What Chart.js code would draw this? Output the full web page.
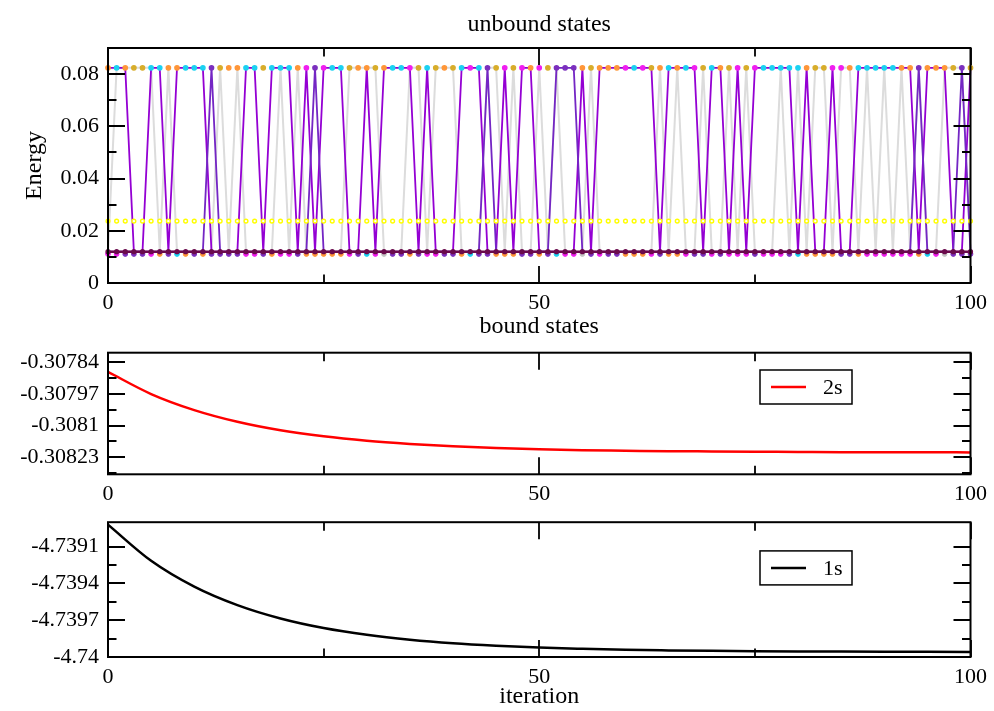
<!DOCTYPE html>
<html>
<head>
<meta charset="utf-8">
<title>SCF iterations</title>
<script src="https://cdn.jsdelivr.net/npm/chart.js@4.4.0/dist/chart.umd.min.js"></script>
<style>
  html, body { margin: 0; padding: 0; background: #fff; }
  #wrap { position: relative; width: 994px; height: 711px; }
  canvas { position: absolute; left: 0; }
</style>
</head>
<body>
<div id="wrap">
  <canvas id="unbound" width="994" height="320" style="top:0px"></canvas>
  <canvas id="bound2s" width="994" height="200" style="top:310px"></canvas>
  <canvas id="bound1s" width="994" height="211" style="top:500px"></canvas>
</div>
<script>
// iteration index for the unbound panel
const iterations = Array.from({ length: 101 }, (_, i) => i);

// unbound state energies
const upperLevel = 0.0824;
const lowerLevel = 0.0120;
const lowerShadow = 0.0111;
const middleLevel = 0.0237;
const levels = [lowerLevel, upperLevel];

// which level each traced state sits on (0 = lower, 1 = upper)
const violetState = [
  1,1,1,0,0,1,1,0,1,1, 1,1,0,0,0,0,1,1,0,1,
  1,1,0,1,0,1,1,1,0,0, 1,0,1,1,1,1,0,1,0,0,
  0,1,1,1,0,0,1,0,1,1, 0,0,0,0,0,1,0,1,1,1,
  1,1,1,1,0,1,1,1,1,0, 1,1,0,1,0,1,1,1,1,1,
  0,1,0,0,1,0,0,1,1,1, 1,1,1,1,0,1,1,1,0,0,1
];
const greyState = [
  0,1,1,1,1,1,0,1,0,0, 0,0,0,1,0,1,0,0,0,0,
  1,0,1,0,0,0,0,0,1,1, 1,1,0,0,0,1,1,0,1,1,
  1,0,0,0,1,1,0,1,0,0, 1,0,1,0,0,0,1,0,0,0,
  0,0,0,0,1,0,1,0,0,1, 0,0,1,0,1,0,0,0,1,0,
  1,0,1,1,0,1,1,0,1,0, 1,0,1,0,1,0,0,1,1,1,0
];
const indigoState = [
  0,0,0,0,0,0,0,0,0,0, 0,0,1,0,0,0,0,0,0,0,
  0,0,0,0,1,0,0,0,0,0, 0,0,0,0,0,0,0,0,0,0,
  0,0,0,0,1,0,0,0,0,0, 0,0,1,1,1,0,0,0,0,0,
  0,0,0,0,0,0,0,0,0,0, 0,0,0,0,0,0,0,0,0,0,
  0,0,0,0,0,0,0,0,0,0, 0,0,0,0,1,0,0,0,0,1,0
];

// symbol colour of the state found on each level per iteration
const upperMarks = ('ocoyyccoocc' + 'cpyooccycc' + 'compmccyoo' + 'yoccmycyoy' + 'cmcpymymom' +
  'ypppoyooom' + 'cmyococmyc' + 'oymymccccc' + 'oyymmocccc' + 'coopoooypy').split('');
const lowerMarks = ('mmpppmopcop' + 'oppppmmpom' + 'mpooooompc' + 'mgppopmmpp' + 'ocppoooppo' +
  'pcmmgpmppo' + 'oompoomppm' + 'pmmmpmmmpc' + 'ooooppommm' + 'mmmocmgppp').split('');
const markColor = { o: '#ff9638', c: '#1ad2f2', y: '#d8ad2a', m: '#f01ef0', p: '#7b2fbe', g: '#c4c4c4' };

// bound states, sampled every 5 iterations
const curveIter = [0,5,10,15,20,25,30,35,40,45,50,55,60,65,70,75,80,85,90,95,100];
const energy2s = [
  -0.307879, -0.307970, -0.308036, -0.308084, -0.308119, -0.308144, -0.308162,
  -0.308175, -0.308185, -0.308192, -0.308197, -0.308201, -0.308203, -0.308205,
  -0.308206, -0.308207, -0.308208, -0.308209, -0.308209, -0.308209, -0.308210
];
const energy1s = [
  -4.738920, -4.739215, -4.739426, -4.739577, -4.739686, -4.739764, -4.739819,
  -4.739859, -4.739888, -4.739908, -4.739923, -4.739933, -4.739941, -4.739946,
  -4.739950, -4.739953, -4.739955, -4.739956, -4.739957, -4.739958, -4.739959
];

// tick values
const xMajor = [0, 50, 100];
const xMinor = [25, 75];
const unboundMajor = [0, 0.02, 0.04, 0.06, 0.08];
const unboundMinor = [0.01, 0.03, 0.05, 0.07];
const ticks2sMajor = [-0.30784, -0.30797, -0.3081, -0.30823];
const ticks2sMinor = [-0.307905, -0.308035, -0.308165, -0.308295];
const ticks1sMajor = [-4.7391, -4.7394, -4.7397, -4.74];
const ticks1sMinor = [-4.73925, -4.73955, -4.73985];

const serif = "'Liberation Serif', 'Times New Roman', serif";
Chart.defaults.font.family = serif;
Chart.defaults.color = '#000';

// box around the plot, inward ticks on all four sides, panel title, optional legend box
const framePlugin = {
  id: 'frame',
  afterDatasetsDraw(chart, args, opts) {
    const { ctx, chartArea: a, scales: { x, y } } = chart;
    ctx.save();
    ctx.strokeStyle = '#000';
    ctx.lineWidth = 1.8;
    ctx.beginPath();
    const xt = (vals, len) => vals.forEach(v => {
      const px = Math.round(x.getPixelForValue(v));
      ctx.moveTo(px, a.bottom); ctx.lineTo(px, a.bottom - len);
      ctx.moveTo(px, a.top); ctx.lineTo(px, a.top + len);
    });
    const yt = (vals, len) => vals.forEach(v => {
      const py = Math.round(y.getPixelForValue(v));
      ctx.moveTo(a.left, py); ctx.lineTo(a.left + len, py);
      ctx.moveTo(a.right, py); ctx.lineTo(a.right - len, py);
    });
    xt(xMajor, 17); xt(xMinor, 8.5);
    yt(opts.yMajor, 17); yt(opts.yMinor, 8.5);
    ctx.stroke();
    ctx.lineWidth = 2;
    ctx.strokeRect(a.left, a.top, a.right - a.left, a.bottom - a.top);

    ctx.fillStyle = '#000';
    ctx.textBaseline = 'middle';
    if (opts.title) {
      ctx.font = '24px ' + serif;
      ctx.textAlign = 'center';
      ctx.fillText(opts.title, (a.left + a.right) / 2, opts.titleY);
    }

    if (opts.legend) {
      const ds = chart.data.datasets[0];
      const bx = a.left + opts.legend.dx, by = a.top + opts.legend.dy;
      const bw = 92, bh = 34, cy = by + bh / 2;
      ctx.fillStyle = '#fff';
      ctx.fillRect(bx, by, bw, bh);
      ctx.lineWidth = 1.5;
      ctx.strokeRect(bx, by, bw, bh);
      ctx.strokeStyle = ds.borderColor;
      ctx.lineWidth = 2.5;
      ctx.beginPath();
      ctx.moveTo(bx + 11, cy); ctx.lineTo(bx + 46, cy);
      ctx.stroke();
      ctx.fillStyle = '#000';
      ctx.font = '22px ' + serif;
      ctx.textAlign = 'left';
      ctx.fillText(ds.label, bx + 63, cy + 1);
    }
    ctx.restore();
  }
};

function fixedTicks(vals) {
  return scale => { scale.ticks = vals.map(v => ({ value: v })); };
}

function xAxis(height, title) {
  return {
    type: 'linear', min: 0, max: 100,
    grid: { display: false, drawTicks: false }, border: { display: false },
    afterBuildTicks: fixedTicks(xMajor),
    afterFit: s => { s.height = height; },
    ticks: { font: { size: 22 }, padding: 7, maxRotation: 0, callback: v => String(v) },
    title: title ? { display: true, text: title, font: { size: 24 }, padding: { top: 0, bottom: 0 } } : { display: false }
  };
}

function yAxis(min, max, major, title) {
  return {
    min: min, max: max,
    grid: { display: false, drawTicks: false }, border: { display: false },
    afterBuildTicks: fixedTicks(major),
    afterFit: s => { s.width = 108; },
    ticks: { font: { size: 22 }, padding: 9, autoSkip: false, callback: v => String(v) },
    title: title ? { display: true, text: title, font: { size: 24 }, padding: { top: 20.6, bottom: 0 } } : { display: false }
  };
}

const points = (vals) => iterations.map(i => ({ x: i, y: vals[i] }));
const onLevel = (state) => iterations.map(i => ({ x: i, y: levels[state[i]] }));

// unbound states
new Chart(document.getElementById('unbound').getContext('2d'), {
  type: 'line',
  data: {
    datasets: [
      {
        label: 'lowest', data: points(iterations.map(() => lowerLevel)),
        borderColor: '#6a0a4c', backgroundColor: '#6a0a4c', borderWidth: 2.5,
        pointRadius: 2.6, pointBorderWidth: 0
      },
      {
        label: 'upper', data: points(iterations.map(() => upperLevel)), showLine: false,
        pointRadius: 2.2, pointBorderWidth: 1.3,
        pointBackgroundColor: upperMarks.map(k => markColor[k]),
        pointBorderColor: upperMarks.map(k => markColor[k])
      },
      {
        label: 'lower', data: points(iterations.map(() => lowerShadow)), showLine: false,
        pointRadius: 2.4, pointBorderWidth: 1,
        pointBackgroundColor: lowerMarks.map(k => markColor[k]),
        pointBorderColor: lowerMarks.map(k => markColor[k])
      },
      {
        label: 'middle', data: points(iterations.map(() => middleLevel)), showLine: false,
        pointRadius: 1.9, pointBorderWidth: 1.4,
        pointBackgroundColor: '#fff', pointBorderColor: '#ffff00'
      },
      {
        label: 'indigo', data: onLevel(indigoState),
        borderColor: '#7426c4', borderWidth: 1.8, pointRadius: 0
      },
      {
        label: 'violet', data: onLevel(violetState),
        borderColor: '#9400d3', borderWidth: 1.8, pointRadius: 0
      },
      {
        label: 'grey', data: onLevel(greyState),
        borderColor: '#dcdcdc', borderWidth: 2, pointRadius: 0
      }
    ]
  },
  options: {
    responsive: false, animation: false, events: [], clip: false,
    layout: { padding: { left: 0, right: 22, top: 48, bottom: 0 } },
    scales: {
      x: xAxis(37),
      y: yAxis(0, 0.09, unboundMajor, 'Energy')
    },
    plugins: {
      legend: { display: false }, tooltip: { enabled: false },
      frame: { yMajor: unboundMajor, yMinor: unboundMinor, title: 'unbound states', titleY: 25 }
    }
  },
  plugins: [framePlugin]
});

// bound state 2s
new Chart(document.getElementById('bound2s').getContext('2d'), {
  type: 'line',
  data: {
    datasets: [{
      label: '2s', data: curveIter.map((x, i) => ({ x: x, y: energy2s[i] })),
      borderColor: '#ff0000', borderWidth: 2.5, pointRadius: 0, cubicInterpolationMode: 'monotone'
    }]
  },
  options: {
    responsive: false, animation: false, events: [],
    layout: { padding: { left: 0, right: 22, top: 42.7, bottom: 0 } },
    scales: {
      x: xAxis(35.7),
      y: yAxis(-0.3083, -0.3078, ticks2sMajor)
    },
    plugins: {
      legend: { display: false }, tooltip: { enabled: false },
      frame: { yMajor: ticks2sMajor, yMinor: ticks2sMinor, title: 'bound states', titleY: 17, legend: { dx: 652, dy: 17.3 } }
    }
  },
  plugins: [framePlugin]
});

// bound state 1s
new Chart(document.getElementById('bound1s').getContext('2d'), {
  type: 'line',
  data: {
    datasets: [{
      label: '1s', data: curveIter.map((x, i) => ({ x: x, y: energy1s[i] })),
      borderColor: '#000000', borderWidth: 2.5, pointRadius: 0, cubicInterpolationMode: 'monotone'
    }]
  },
  options: {
    responsive: false, animation: false, events: [],
    layout: { padding: { left: 0, right: 22, top: 18.3, bottom: 0 } },
    scales: {
      x: xAxis(54, 'iteration'),
      y: yAxis(-4.74, -4.7389, ticks1sMajor)
    },
    plugins: {
      legend: { display: false }, tooltip: { enabled: false },
      frame: { yMajor: ticks1sMajor, yMinor: ticks1sMinor, legend: { dx: 652, dy: 28.7 } }
    }
  },
  plugins: [framePlugin]
});
</script>
</body>
</html>
